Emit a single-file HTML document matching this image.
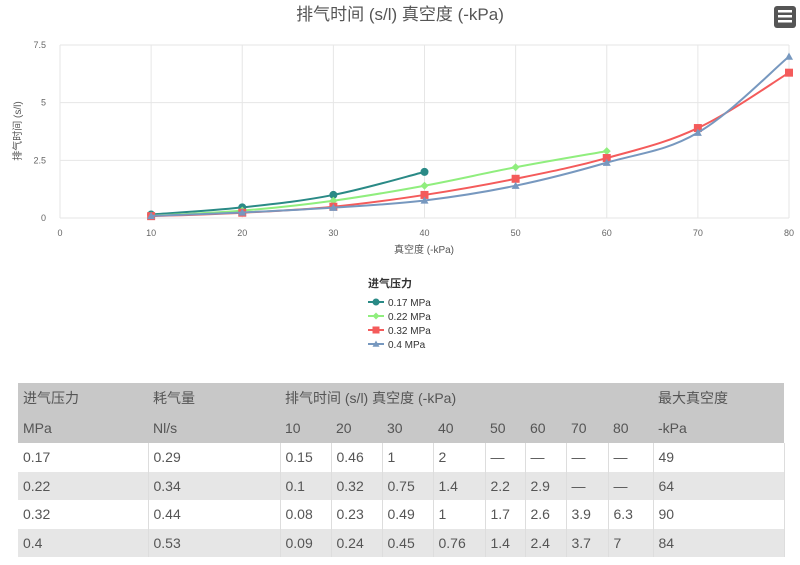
<!DOCTYPE html>
<html><head><meta charset="utf-8"><style>
body{margin:0;background:#fff;font-family:"Liberation Sans","Noto Sans CJK SC",sans-serif;}
#wrap{position:relative;width:800px;height:565px;overflow:hidden}
table{position:absolute;left:18px;top:383px;border-collapse:collapse;font-size:14px;color:#555;font-family:"Liberation Sans","Noto Sans CJK SC",sans-serif}
td{padding:0 0 0 5px;height:28.5px;border-right:1px solid #ddd;vertical-align:middle}
tr.h td{background:#c8c8c8;border-right:none;height:30px;color:#555}
tr.g td{background:#e6e6e6}
</style></head><body><div id="wrap">
<svg id="chart" width="800" height="380" style="position:absolute;left:0;top:0"></svg>
<table>
<colgroup><col style="width:130px"><col style="width:132px"><col style="width:51px"><col style="width:51px"><col style="width:51px"><col style="width:52px"><col style="width:40px"><col style="width:41px"><col style="width:42px"><col style="width:45px"><col style="width:131px"></colgroup>
<tr class="h"><td>进气压力</td><td>耗气量</td><td colspan="8">排气时间 (s/l) 真空度 (-kPa)</td><td>最大真空度</td></tr>
<tr class="h"><td>MPa</td><td>Nl/s</td><td>10</td><td>20</td><td>30</td><td>40</td><td>50</td><td>60</td><td>70</td><td>80</td><td>-kPa</td></tr>
<tr><td>0.17</td><td>0.29</td><td>0.15</td><td>0.46</td><td>1</td><td>2</td><td>—</td><td>—</td><td>—</td><td>—</td><td>49</td></tr>
<tr class="g"><td>0.22</td><td>0.34</td><td>0.1</td><td>0.32</td><td>0.75</td><td>1.4</td><td>2.2</td><td>2.9</td><td>—</td><td>—</td><td>64</td></tr>
<tr><td>0.32</td><td>0.44</td><td>0.08</td><td>0.23</td><td>0.49</td><td>1</td><td>1.7</td><td>2.6</td><td>3.9</td><td>6.3</td><td>90</td></tr>
<tr class="g"><td>0.4</td><td>0.53</td><td>0.09</td><td>0.24</td><td>0.45</td><td>0.76</td><td>1.4</td><td>2.4</td><td>3.7</td><td>7</td><td>84</td></tr>
</table>
</div>
<script>
const xCats=[10,20,30,40,50,60,70,80];
const s017=[0.15,0.46,1,2];
const s022=[0.1,0.32,0.75,1.4,2.2,2.9];
const s032=[0.08,0.23,0.49,1,1.7,2.6,3.9,6.3];
const s04=[0.09,0.24,0.45,0.76,1.4,2.4,3.7,7];
const seriesNames=["0.17 MPa","0.22 MPa","0.32 MPa","0.4 MPa"];
const xTicks=[0,10,20,30,40,50,60,70,80];
const yTicks=[0,2.5,5,7.5];
const NS="http://www.w3.org/2000/svg";
const svg=document.getElementById('chart');
const X=v=>60+v*(729/80), Y=v=>218-v*(173/7.5);
function mk(t,a,p){const e=document.createElementNS(NS,t);for(const k in a)e.setAttribute(k,a[k]);(p||svg).appendChild(e);return e;}
const title=mk('text',{x:400,y:20,'text-anchor':'middle','font-size':17,fill:'#555'});title.textContent='排气时间 (s/l) 真空度 (-kPa)';


const menu=mk('rect',{x:774,y:6,width:22,height:22,rx:3,fill:'#555'});


[11,16,21].forEach(y=>mk('rect',{x:778,y:y-1,width:14,height:2.5,fill:'#fff'}));
xTicks.forEach(t=>{const l=mk('line',{x1:X(t),x2:X(t),y1:45,y2:218,stroke:'#e6e6e6'});


const tx=mk('text',{x:X(t),y:236,'text-anchor':'middle','font-size':9,fill:'#666'});tx.textContent=t;

});
yTicks.forEach(t=>{const l=mk('line',{x1:60,x2:789,y1:Y(t),y2:Y(t),stroke:'#e6e6e6'});


const tx=mk('text',{x:46,y:Y(t)+3,'text-anchor':'end','font-size':9,fill:'#666'});tx.textContent=t;

});
const xt=mk('text',{x:424,y:253,'text-anchor':'middle','font-size':10,fill:'#555'});xt.textContent='真空度 (-kPa)';


const yt=mk('text',{x:0,y:0,'text-anchor':'middle','font-size':10,fill:'#555',transform:'translate(21,131) rotate(-90)'});yt.textContent='排气时间 (s/l)';


const colors=['#2a8a86','#90ee7e','#f45b5b','#7798bf'];
const shapes=['circle','diamond','square','triangle'];
function marker(s,x,y,c,r){
 if(s==='circle')return mk('circle',{cx:x,cy:y,r:r,fill:c});
 if(s==='diamond')return mk('path',{d:`M${x},${y-r}L${x+r},${y}L${x},${y+r}L${x-r},${y}Z`,fill:c});
 if(s==='square')return mk('rect',{x:x-r,y:y-r,width:2*r,height:2*r,fill:c});
 return mk('path',{d:`M${x},${y-r}L${x+r},${y+r*0.8}L${x-r},${y+r*0.8}Z`,fill:c});
}
function smooth(pts){let d=`M${pts[0][0]},${pts[0][1]}`;for(let i=0;i<pts.length-1;i++){const p0=pts[i-1]||pts[i],p1=pts[i],p2=pts[i+1],p3=pts[i+2]||p2;const t=0.18;
 d+=`C${p1[0]+(p2[0]-p0[0])*t},${p1[1]+(p2[1]-p0[1])*t} ${p2[0]-(p3[0]-p1[0])*t},${p2[1]-(p3[1]-p1[1])*t} ${p2[0]},${p2[1]}`;}return d;}
[s017,s022,s032,s04].forEach((s,i)=>{
 const pts=s.map((v,j)=>[X(xCats[j]),Y(v)]);
 const p=mk('path',{d:smooth(pts),fill:'none',stroke:colors[i],'stroke-width':2});
 
 
 pts.forEach(q=>{const m=marker(shapes[i],q[0],q[1],colors[i],4);
 
 });
 const ly=302+i*14;
 mk('line',{x1:368,x2:384,y1:ly,y2:ly,stroke:colors[i],'stroke-width':2});
 marker(shapes[i],376,ly,colors[i],3.5);
 const lt=mk('text',{x:388,y:ly+4,'font-size':10,fill:'#333'});lt.textContent=seriesNames[i];
 
 
});
const lg=mk('text',{x:368,y:287,'font-size':11,'font-weight':'bold',fill:'#333'});lg.textContent='进气压力';


</script></body></html>
